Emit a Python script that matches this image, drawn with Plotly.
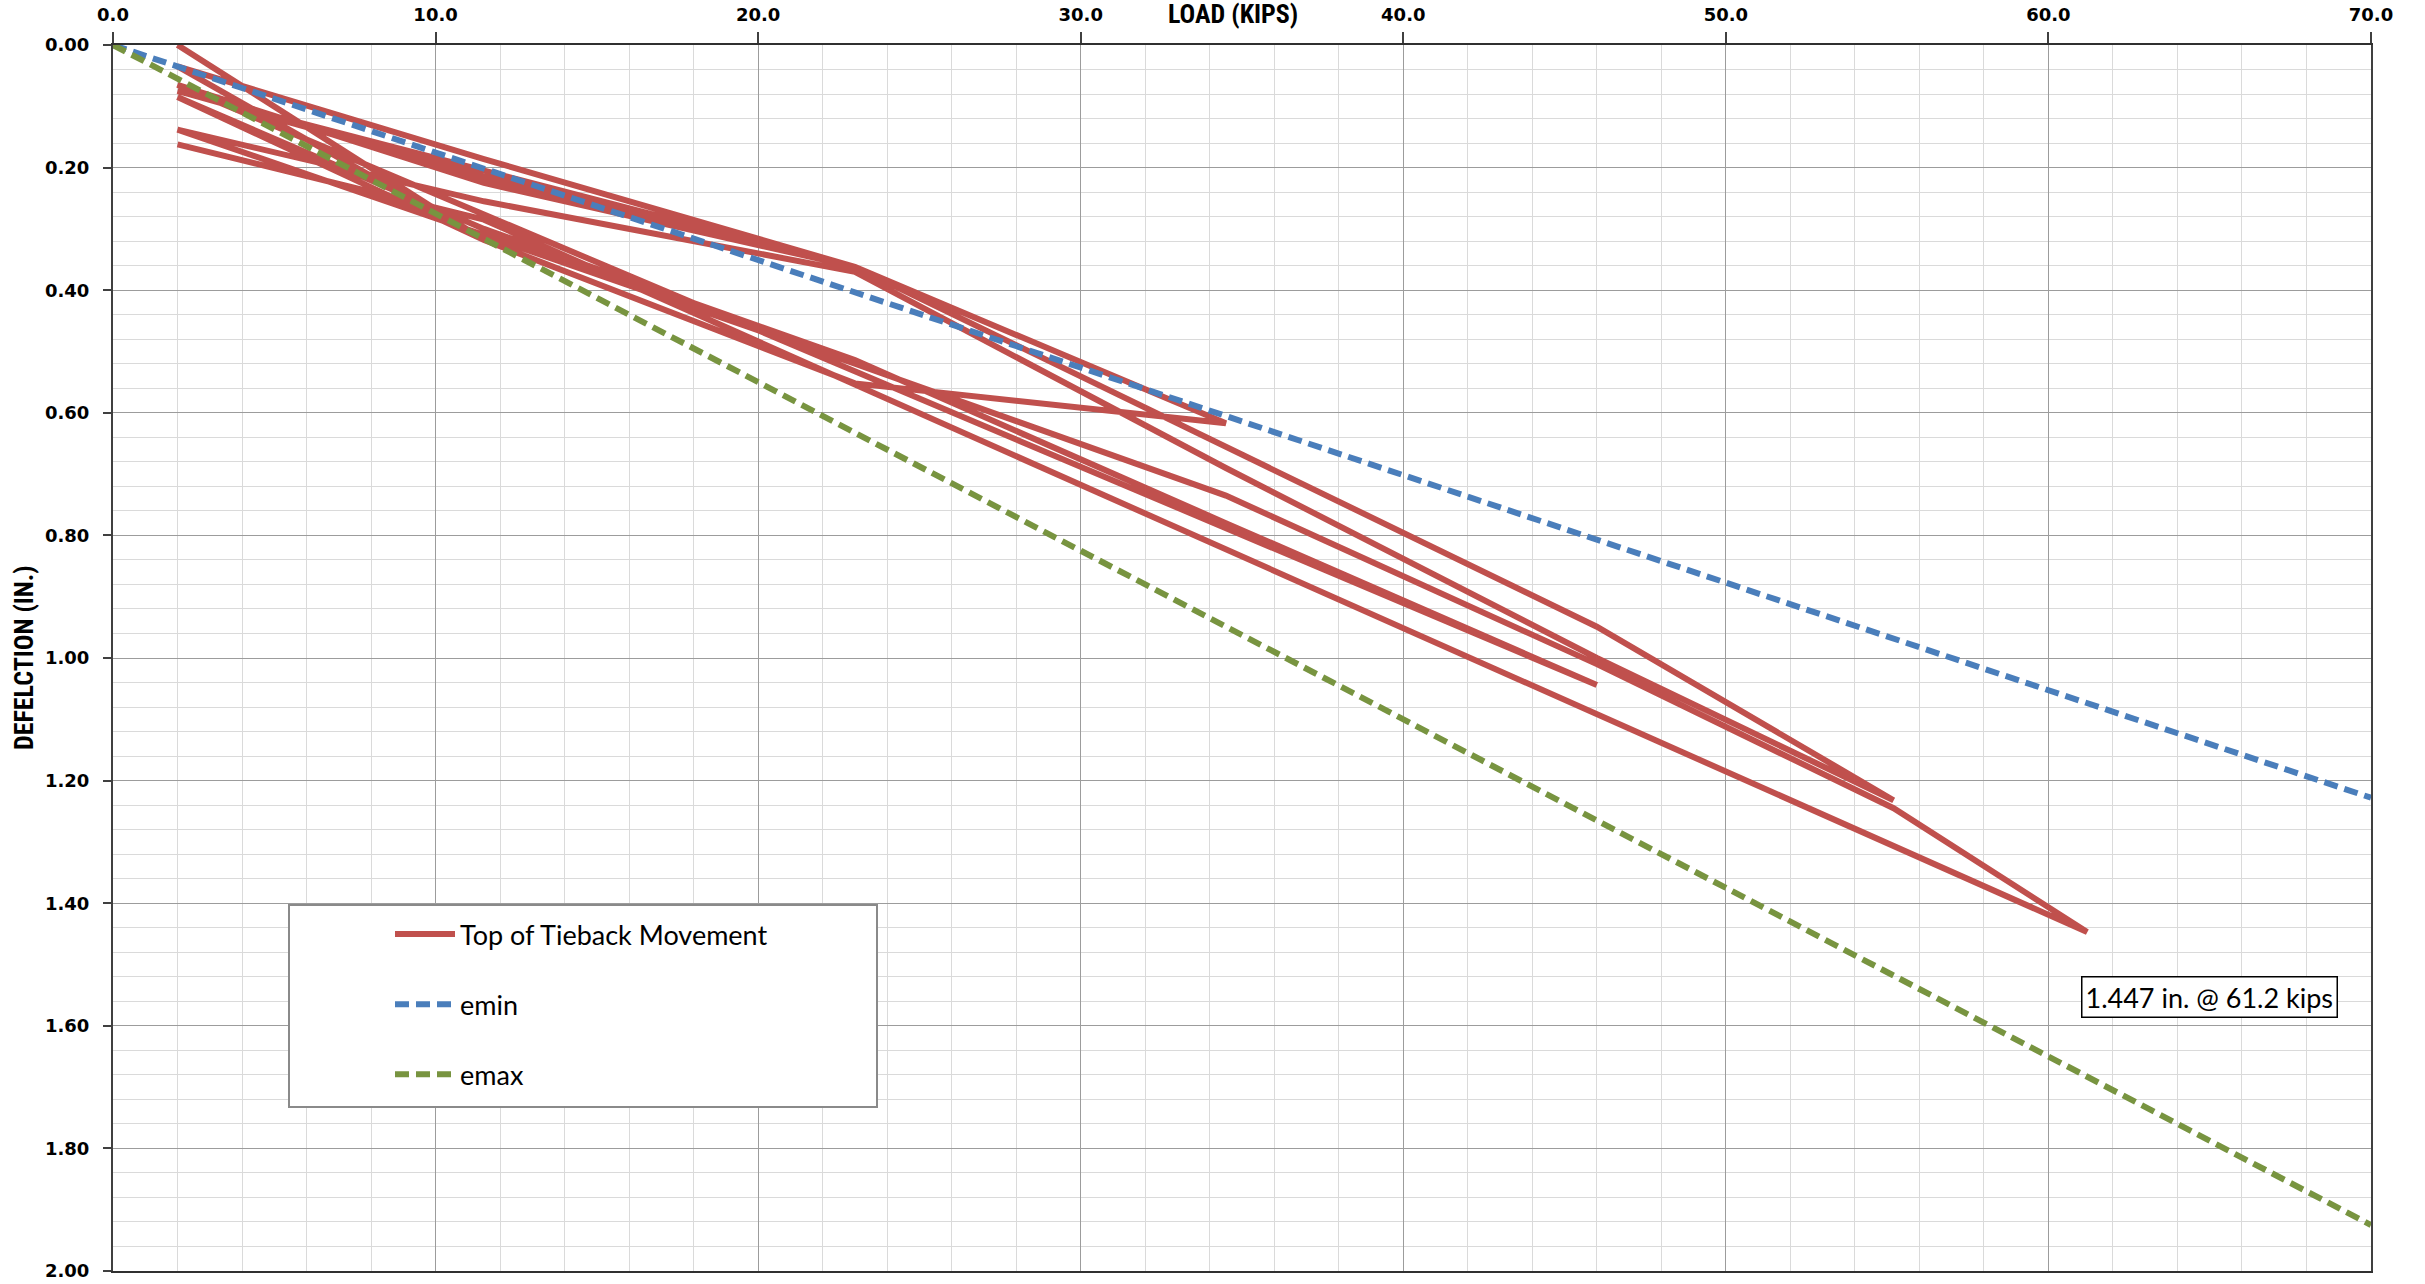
import plotly.graph_objects as go

# ---------------- data ----------------
# Top of tieback movement (load in kips, deflection in inches), in test order
load_kips = [2, 11.5, 2, 11.5, 23, 2, 11.5, 23, 34.5, 23, 11.5, 2,
             11.5, 23, 34.5, 46, 2,
             11.5, 23, 34.5, 46, 55.2, 46, 34.5, 23, 11.5, 2,
             11.5, 23, 34.5, 46, 55.2, 61.2, 11.5, 2]
movement_in = [0.000, 0.318, 0.035, 0.186, 0.362, 0.075, 0.215, 0.362, 0.617, 0.552, 0.318, 0.085,
               0.300, 0.514, 0.780, 1.044, 0.065,
               0.225, 0.362, 0.656, 0.949, 1.232, 1.000, 0.690, 0.370, 0.255, 0.138,
               0.310, 0.520, 0.735, 1.010, 1.245, 1.447, 0.285, 0.162]

emin_load = [0, 70]
emin_defl = [0.0, 1.228]
emax_load = [0, 70]
emax_defl = [0.0, 1.925]

x_tick_vals = [0, 10, 20, 30, 40, 50, 60, 70]
y_tick_vals = [0.0, 0.2, 0.4, 0.6, 0.8, 1.0, 1.2, 1.4, 1.6, 1.8, 2.0]

max_label = "1.447 in. @ 61.2 kips"
max_label_pos = (65.0, 1.553)

# ---------------- styling ----------------
W, H = 2425, 1284
L, R, T, B = 113, 54, 45, 13
pw, ph = W - L - R, H - T - B

def px_x(p):
    return (p - L) / pw

def px_y(p):
    return (H - B - p) / ph

RED = "#C0504D"
BLUE = "#4A7EBB"
GREEN = "#789440"
LEG_FONT = dict(family="Lato, Open Sans, sans-serif", size=27, color="#000000")
TICK_FONT = dict(family="DejaVu Sans, Verdana, sans-serif", size=18, color="#000000", weight="bold")
TITLE_FONT = dict(family="Liberation Sans Narrow, Roboto Condensed, DejaVu Sans Condensed, Arial Narrow, sans-serif",
                  size=26, color="#000000", weight="bold")

fig = go.Figure()
fig.add_trace(go.Scatter(x=load_kips, y=movement_in, mode="lines", name="Top of Tieback Movement",
                         line=dict(color=RED, width=6), legendgroup="a"))
fig.add_trace(go.Scatter(x=emin_load, y=emin_defl, mode="lines", name="emin",
                         line=dict(color=BLUE, width=6, dash="14px,7px"), legendgroup="b"))
fig.add_trace(go.Scatter(x=emax_load, y=emax_defl, mode="lines", name="emax",
                         line=dict(color=GREEN, width=6, dash="14px,7px"), legendgroup="c"))

fig.update_xaxes(range=[0, 70], side="top", tickvals=x_tick_vals, tickformat=".1f",
                 showgrid=True, gridcolor="#9c9c9c", gridwidth=1.2,
                 minor=dict(dtick=2, showgrid=True, gridcolor="#dadada", gridwidth=1.2),
                 ticks="outside", ticklen=11, tickwidth=1.5, tickcolor="#404040",
                 showline=True, linecolor="#303030", linewidth=2, mirror=True,
                 tickfont=TICK_FONT, zeroline=False, ticklabelstandoff=4, automargin=False)
fig.update_yaxes(range=[2.0, 0.0], tickvals=y_tick_vals, tickformat=".2f",
                 showgrid=True, gridcolor="#9c9c9c", gridwidth=1.2,
                 minor=dict(dtick=0.04, showgrid=True, gridcolor="#dadada", gridwidth=1.2),
                 ticks="outside", ticklen=8, tickwidth=1.5, tickcolor="#404040",
                 showline=True, linecolor="#404040", linewidth=2, mirror=True,
                 tickfont=TICK_FONT, zeroline=False, ticklabelstandoff=10, automargin=False)

# legend frame
fig.add_shape(type="rect", xref="paper", yref="paper",
              x0=px_x(289), x1=px_x(877), y0=px_y(1107), y1=px_y(905),
              line=dict(color="#8a8a8a", width=2), fillcolor="white", layer="above")

fig.add_annotation(x=max_label_pos[0], y=max_label_pos[1], xref="x", yref="y",
                   text=max_label, showarrow=False, font=LEG_FONT,
                   bordercolor="#000000", borderwidth=1.5, borderpad=3, bgcolor="white")

fig.add_annotation(x=px_x(1233), y=1 + (T - 14) / ph, xref="paper", yref="paper",
                   text="LOAD (KIPS)", showarrow=False, font=TITLE_FONT,
                   xanchor="center", yanchor="middle")
fig.add_annotation(x=px_x(24), y=0.5, xref="paper", yref="paper",
                   text="DEFELCTION (IN.)", showarrow=False, font=TITLE_FONT, textangle=-90,
                   xanchor="center", yanchor="middle")

fig.update_layout(
    width=W, height=H,
    margin=dict(l=L, r=R, t=T, b=B, autoexpand=False),
    paper_bgcolor="white", plot_bgcolor="white",
    showlegend=True,
    legend=dict(x=px_x(390), y=px_y(910), xanchor="left", yanchor="top",
                bgcolor="rgba(0,0,0,0)", borderwidth=0, font=LEG_FONT,
                itemwidth=60, traceorder="grouped", tracegroupgap=32),
)

# remove the browser's default page margin so the figure sits at the window origin
fig.write_html("out.html",
               config={"displayModeBar": False},
               post_script="document.body.style.margin='0';document.body.style.overflow='hidden';")
